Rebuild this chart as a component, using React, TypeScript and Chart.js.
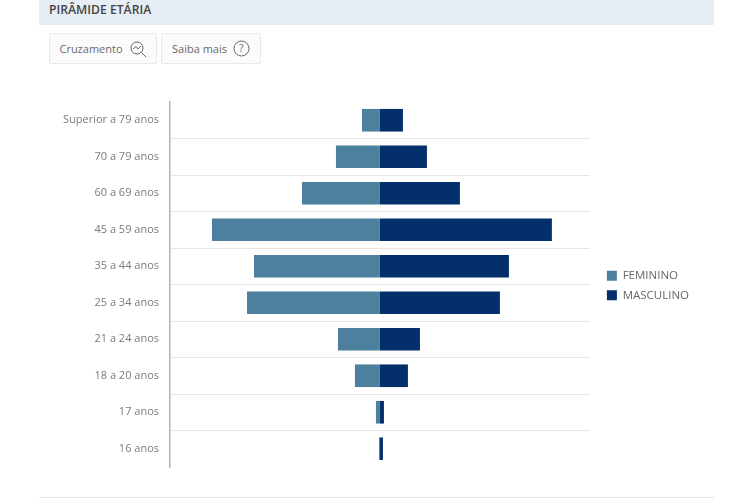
import React, { useEffect, useRef } from "react";
import { Chart, registerables } from "chart.js";

Chart.register(...registerables);

const categories = ["Superior a 79 anos", "70 a 79 anos", "60 a 69 anos", "45 a 59 anos", "35 a 44 anos", "25 a 34 anos", "21 a 24 anos", "18 a 20 anos", "17 anos", "16 anos"];
const feminino = [-1.8, -4.4, -7.8, -16.8, -12.6, -13.3, -4.2, -2.5, -0.4, -0.1];
const masculino = [2.3, 4.7, 8.0, 17.2, 12.9, 12.0, 4.0, 2.8, 0.4, 0.3];

const FONT = '"Open Sans", "Noto Sans", sans-serif';

const btn: React.CSSProperties = {
  position: "absolute", top: 33, height: 31, boxSizing: "border-box", background: "#fbfbfb",
  border: "1px solid #e9e9e9", borderRadius: 2, display: "flex", alignItems: "center",
  justifyContent: "center", gap: 6, fontSize: 11, color: "#6a6a6a",
};

const legendNudge = {
  id: "legendNudge",
  afterLayout(chart: any) {
    const l = chart.legend;
    l.left += 9;
    l.right += 9;
    l.top += 1;
    l.bottom += 1;
    l.adjustHitBoxes();
  },
};

export default function App() {
  const ref = useRef<HTMLCanvasElement>(null);
  useEffect(() => {
    document.body.style.margin = "0";
    document.body.style.background = "#fff";
    const chart = new Chart(ref.current!, {
      type: "bar",
      data: {
        labels: categories,
        datasets: [
          { label: "FEMININO", data: feminino, backgroundColor: "#4d7f9e", barPercentage: 0.62, categoryPercentage: 1 },
          { label: "MASCULINO", data: masculino, backgroundColor: "#03306b", barPercentage: 0.62, categoryPercentage: 1 },
        ],
      },
      options: {
        indexAxis: "y",
        animation: false,
        responsive: false,
        maintainAspectRatio: false,
        layout: { padding: { top: 102, bottom: 32, left: 0, right: 60 } },
        scales: {
          x: { stacked: true, display: false, min: -21, max: 21 },
          y: {
            stacked: true,
            afterFit: (s: any) => { s.width = 170; },
            border: { color: "#b5b5b5", width: 1.5 },
            grid: {
              drawTicks: false,
              color: (c: any) => (c.type !== "tick" || c.index === 0 ? "rgba(0,0,0,0)" : "#e6e6e6"),
            },
            ticks: { color: "#7a7a7a", padding: 11, font: { family: FONT, size: 11 } },
          },
        },
        plugins: {
          legend: {
            position: "right",
            align: "center",
            labels: { boxWidth: 10, boxHeight: 10, padding: 8, color: "#666", font: { family: FONT, size: 11.5 } },
          },
          tooltip: { enabled: false },
        },
      },
      plugins: [legendNudge],
    });
    return () => chart.destroy();
  }, []);

  return (
    <div style={{ position: "relative", width: 750, height: 499, overflow: "hidden", fontFamily: FONT, background: "#fff" }}>
      <canvas ref={ref} width={750} height={499} style={{ position: "absolute", left: 0, top: 0 }} />
      <div style={{ position: "absolute", left: 39, top: 0, width: 675, height: 25, background: "#e7edf4", color: "#444", fontSize: 12.2, fontWeight: 600, lineHeight: "20px", paddingLeft: 10, boxSizing: "border-box" }}>PIRÂMIDE ETÁRIA</div>
      <div style={{ ...btn, left: 49, width: 108 }}>
        <span>Cruzamento</span>
        <svg width="18" height="18" viewBox="0 0 18 18" fill="none" stroke="#666" strokeWidth="1">
          <circle cx="8" cy="8" r="6" />
          <path d="M12.5 12.5 L17 17" />
          <path d="M4 9 L7 6.5 L9 9 L12 6" />
        </svg>
      </div>
      <div style={{ ...btn, left: 161, width: 100 }}>
        <span>Saiba mais</span>
        <svg width="17" height="17" viewBox="0 0 17 17" fill="none" stroke="#666" strokeWidth="1">
          <circle cx="8.5" cy="8.5" r="7.5" />
          <text x="8.5" y="12" textAnchor="middle" fontSize="10" fill="#666" stroke="none">?</text>
        </svg>
      </div>
      <div style={{ position: "absolute", left: 39, top: 497, width: 675, height: 1, background: "#e3e3e3" }} />
    </div>
  );
}
